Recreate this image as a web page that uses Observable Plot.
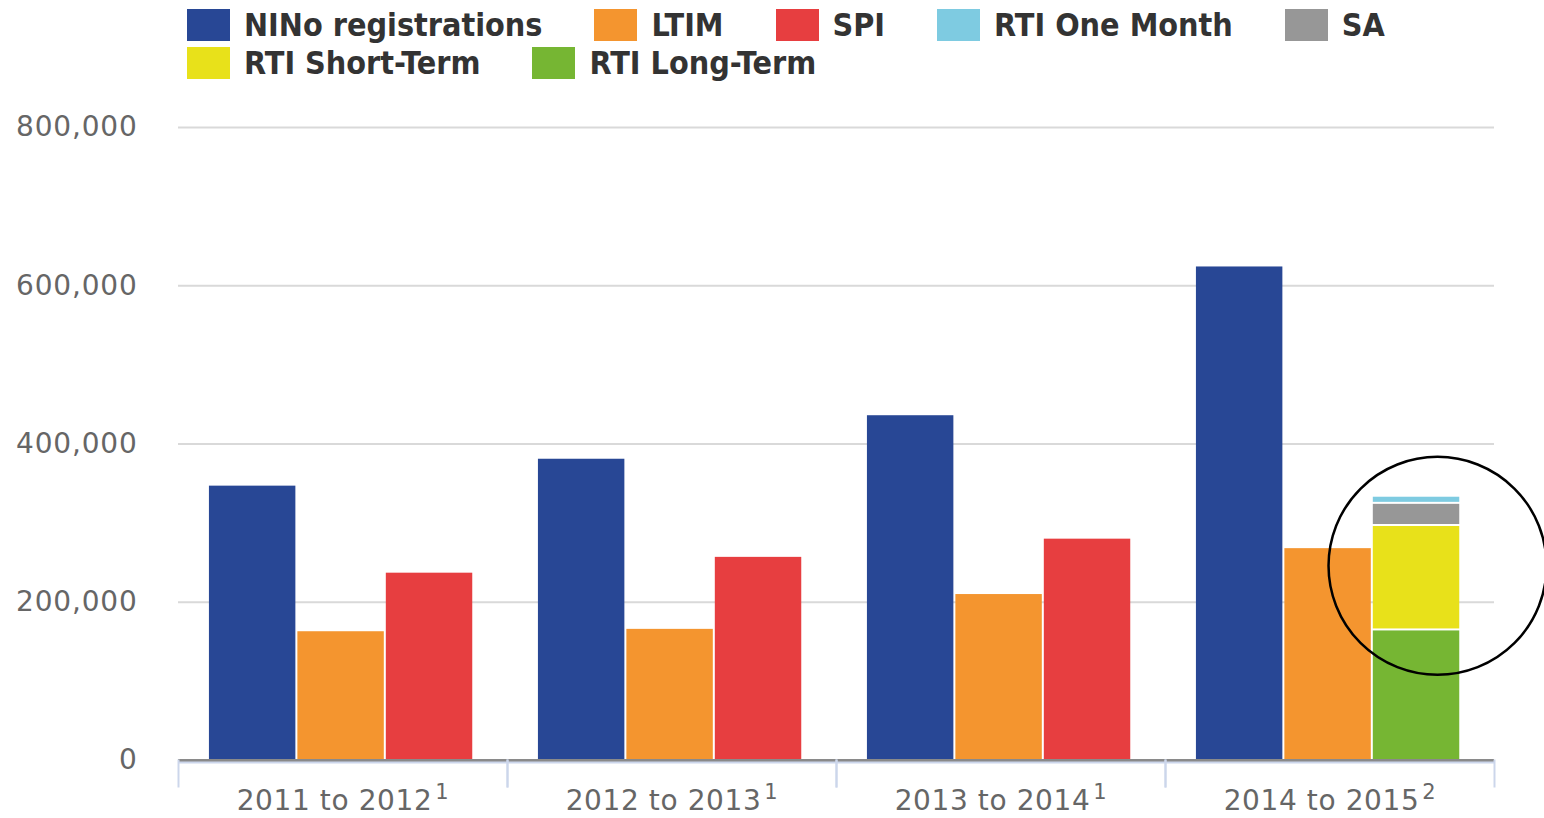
<!DOCTYPE html>
<html>
<head>
<meta charset="utf-8">
<script src="https://cdn.jsdelivr.net/npm/d3@7"></script>
<script src="https://cdn.jsdelivr.net/npm/@observablehq/plot@0.6"></script>
<style>
  html, body { margin: 0; padding: 0; background: #fff; }
  #legend { height: 100px; box-sizing: border-box; padding: 6px 0 0 187px;
    font-family: "DejaVu Sans Condensed", "DejaVu Sans", sans-serif; font-stretch: condensed;
    font-weight: bold; font-size: 32px; color: #333; }
  .row { display: flex; height: 38px; align-items: center; }
  .item { display: flex; align-items: center; margin-right: 52px; white-space: nowrap; }
  .sw { width: 43px; height: 32px; margin-right: 14px; }
  #chart svg { display: block; overflow: visible; }
  #chart g[aria-label="y-axis tick label"] text { letter-spacing: 0.8px; }
  #chart g[aria-label="fx-axis tick label"] text { letter-spacing: 0.6px; }
</style>
</head>
<body>
<div id="legend"></div>
<div id="chart"></div>
<script>
// Categories (x-axis groups) and their footnote markers
const years = ["2011 to 2012", "2012 to 2013", "2013 to 2014", "2014 to 2015"];
const yearNotes = ["1", "1", "1", "2"];
// Series (legend order) and colours
const seriesNames = ["NINo registrations", "LTIM", "SPI", "RTI One Month", "SA", "RTI Short-Term", "RTI Long-Term"];
const seriesColors = ["#284795", "#f4952f", "#e73e40", "#7ecbe1", "#979797", "#e8e11a", "#76b633"];
const legendRows = [["NINo registrations", "LTIM", "SPI", "RTI One Month", "SA"], ["RTI Short-Term", "RTI Long-Term"]];
// Series values per year
const nino = [348000, 382000, 437000, 625000];
const ltim = [164000, 167000, 211000, 269000];
const spi = [238000, 258000, 281000, null];
const rtiLongTerm = [null, null, null, 165000];
const rtiShortTerm = [null, null, null, 132000];
const sa = [null, null, null, 28000];
const rtiOneMonth = [null, null, null, 9000];
// Bar slot within each year group
const slots = ["a", "b", "c"];
// y-axis ticks
const yTicks = [0, 200000, 400000, 600000, 800000];
// Highlight annotation around the stacked RTI bar
const highlight = [{year: "2014 to 2015", slot: "c", value: 246000}];

const seriesDefs = [
  ["NINo registrations", nino, "a"],
  ["LTIM", ltim, "b"],
  ["SPI", spi, "c"],
  ["RTI Long-Term", rtiLongTerm, "c"],
  ["RTI Short-Term", rtiShortTerm, "c"],
  ["SA", sa, "c"],
  ["RTI One Month", rtiOneMonth, "c"]
];
const data = [];
for (const [name, vals, slot] of seriesDefs) {
  vals.forEach((v, i) => { if (v != null) data.push({year: years[i], series: name, slot, value: v}); });
}

// Legend
const legend = document.getElementById("legend");
for (const row of legendRows) {
  const r = document.createElement("div"); r.className = "row";
  for (const name of row) {
    const it = document.createElement("div"); it.className = "item";
    const sw = document.createElement("div"); sw.className = "sw";
    sw.style.background = seriesColors[seriesNames.indexOf(name)];
    const t = document.createElement("span"); t.textContent = name;
    it.append(sw, t); r.append(it);
  }
  legend.append(r);
}

const chart = Plot.plot({
  width: 1544,
  height: 718,
  marginLeft: 176,
  marginRight: 49,
  marginTop: 27,
  marginBottom: 32,
  style: {fontFamily: "DejaVu Sans, sans-serif", fontSize: "28px", color: "#666", background: "#fff", overflow: "visible"},
  fx: {domain: years, padding: 0, label: null},
  x: {domain: slots, paddingInner: 0, paddingOuter: 0.36, align: 0.47, round: false, axis: null},
  y: {domain: [0, 800000], range: [660, 27], label: null},
  color: {domain: seriesNames, range: seriesColors},
  marks: [
    Plot.gridY(yTicks, {stroke: "#d9d9d9", strokeOpacity: 1, strokeWidth: 2}),
    Plot.ruleY([0], {stroke: "#8a8a8a", strokeWidth: 3}),
    Plot.ruleY([0], {stroke: "#ccd6eb", strokeWidth: 2, dy: 2}),
    Plot.frame({anchor: "left", stroke: "#ccd6eb", strokeWidth: 2, insetTop: 633}),
    Plot.frame({anchor: "right", stroke: "#ccd6eb", strokeWidth: 2, insetTop: 633}),
    Plot.barY(data, {fx: "year", x: "slot", y: "value", fill: "series",
      insetLeft: 1, insetRight: 1, insetTop: 1, insetBottom: 1}),
    Plot.dot(highlight, {fx: "year", x: "slot", y: "value", r: 109, dx: 21,
      stroke: "#000", strokeWidth: 2.5, fill: "none", clip: false}),
    Plot.axisY({ticks: yTicks, tickFormat: d3.format(","), tickSize: 0, tickPadding: 41,
      fontSize: 28, fill: "#666", label: null}),
    Plot.axisFx({anchor: "bottom", tickSize: 0, tickPadding: 4, fontSize: 28, fill: "#666", label: null})
  ]
});
document.getElementById("chart").append(chart);

// Footnote superscripts on the group labels
chart.querySelectorAll('g[aria-label="fx-axis tick label"] text').forEach(t => {
  const i = years.indexOf(t.textContent);
  if (i < 0) return;
  const sup = document.createElementNS("http://www.w3.org/2000/svg", "tspan");
  sup.setAttribute("dx", "3");
  sup.setAttribute("dy", "-11");
  sup.setAttribute("font-size", "21");
  sup.textContent = yearNotes[i];
  t.append(sup);
});
</script>
</body>
</html>
